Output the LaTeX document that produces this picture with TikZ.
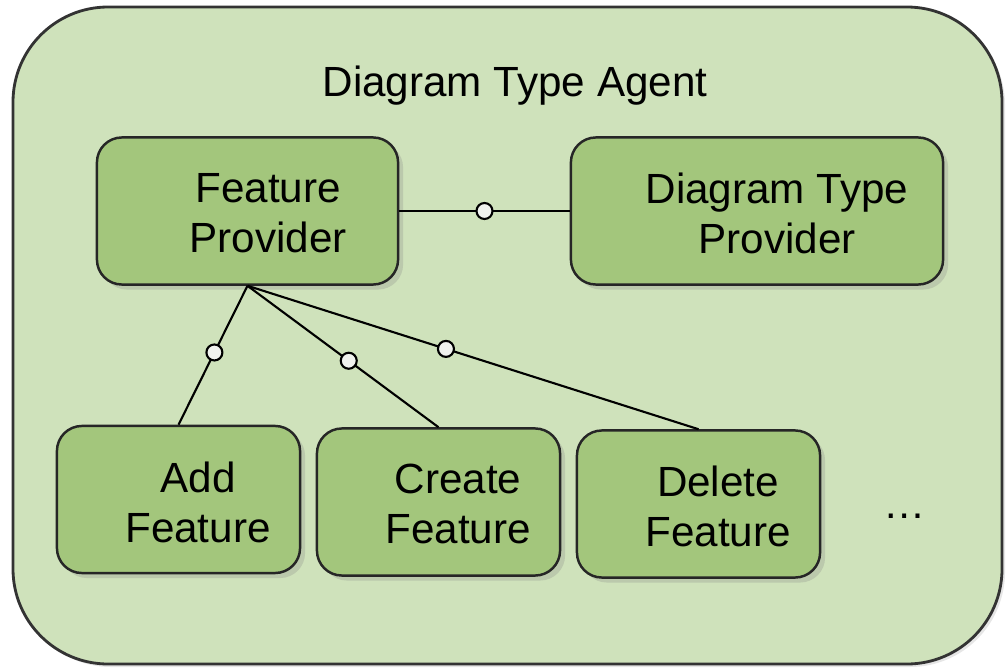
\documentclass[tikz,border=0pt]{standalone}
\usepackage{fontspec}
\setmainfont{Liberation Sans}
\usetikzlibrary{shadows}

\definecolor{agentgreen}{RGB}{207,226,187}
\definecolor{boxgreen}{RGB}{163,198,124}
\definecolor{ringgray}{RGB}{240,242,238}

\tikzset{
    box/.style={draw=black!85, line width=0.7pt, fill=boxgreen, rounded corners=0.25cm,
        minimum width=2.43cm, minimum height=1.47cm, inner sep=0pt,
        drop shadow={shadow xshift=0.05cm, shadow yshift=-0.05cm, opacity=0.25}},
    boxtext/.style={align=center, font=\fontsize{12}{14.2}\selectfont},
    ring/.style={circle, draw=black, line width=0.6pt, fill=ringgray, minimum size=0.16cm, inner sep=0pt},
    link/.style={draw=black, line width=0.6pt}
}

\begin{document}
\begin{tikzpicture}[x=0.01cm, y=-0.01cm]
\useasboundingbox (0,0) rectangle (1007,670);

% agent frame
\draw[draw=black!80, line width=0.8pt, fill=agentgreen, rounded corners=0.95cm,
      drop shadow={shadow xshift=0.03cm, shadow yshift=-0.03cm, opacity=0.2}]
    (13,7) rectangle (1002,664);
\node[boxtext] (title) at (515,86) {Diagram Type Agent};

% providers
\node[box, minimum width=3.01cm] (fp) at (247.5,211) {};
\node[box, minimum width=3.72cm] (dtp) at (757,211) {};
\node[boxtext] (fp-txt) at (268,213) {Feature\\Provider};
\node[boxtext] (dtp-txt) at (777,213) {Diagram Type\\Provider};

% features
\node[box] (add) at (178.5,499.5) {};
\node[box] (create) at (438.5,502) {};
\node[box] (delete) at (698.5,504) {};
\node[boxtext] (add-txt) at (198,502) {Add\\Feature};
\node[boxtext] (create-txt) at (458,504) {Create\\Feature};
\node[boxtext] (delete-txt) at (718,506) {Delete\\Feature};
\node[boxtext] (more) at (905,516) {\dots};

% connectors
\path[link] (fp.east) -- node[pos=0.5, ring] {} (dtp.west);
\path[link] (fp.south) -- node[pos=0.48, ring] {} (add.north);
\path[link] (fp.south) -- node[pos=0.53, ring] {} (create.north);
\path[link] (fp.south) -- node[pos=0.44, ring] {} (delete.north);
\end{tikzpicture}
\end{document}
